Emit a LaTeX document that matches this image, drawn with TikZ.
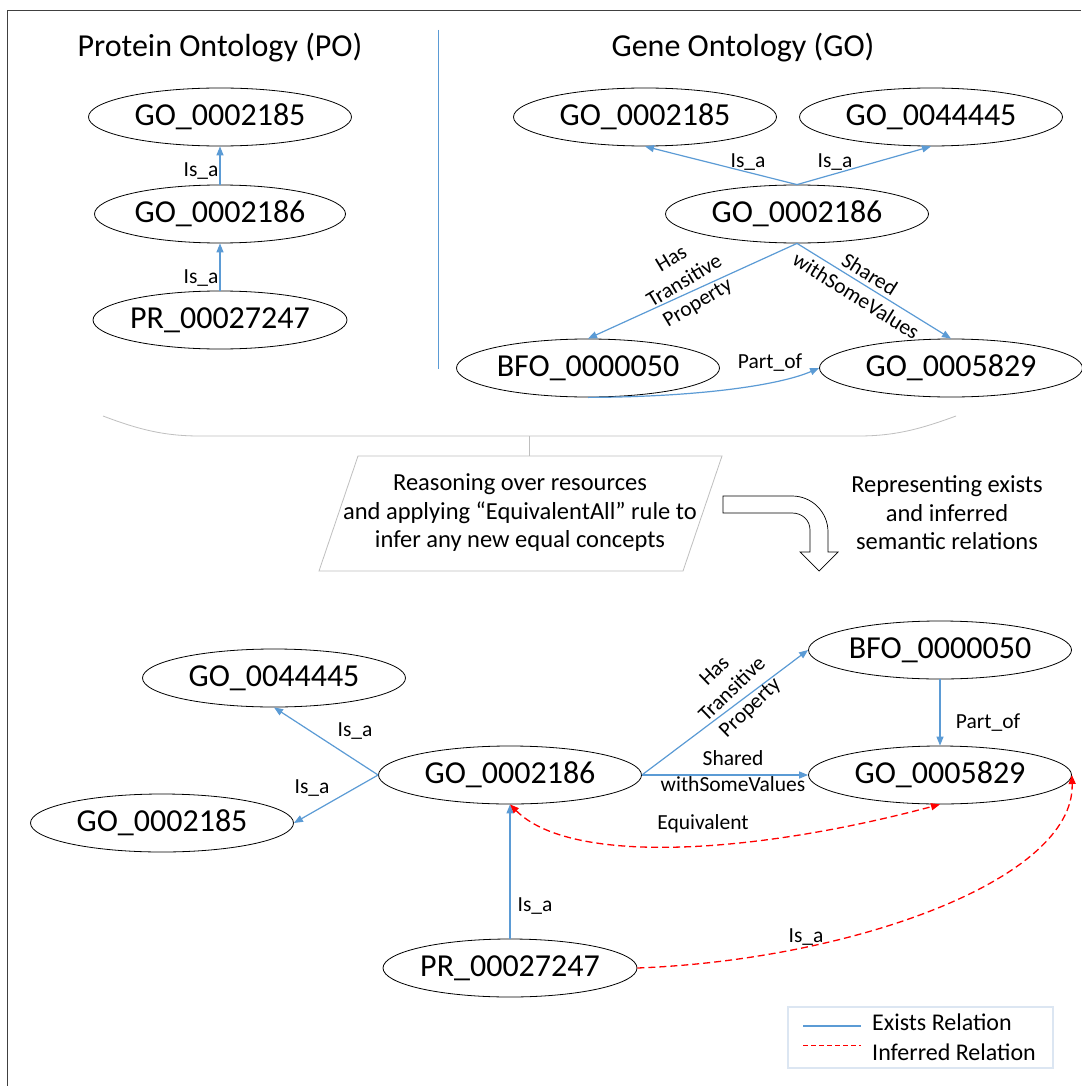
\documentclass[tikz,border=0pt]{standalone}
\usepackage{fontspec}
\setmainfont{Carlito}
\usetikzlibrary{shapes.geometric,arrows.meta}
\definecolor{relblue}{HTML}{5B9BD5}
\definecolor{framegray}{HTML}{404040}
\definecolor{softgray}{HTML}{BFBFBF}
\definecolor{legendedge}{HTML}{DCE6F2}

\begin{document}
\begin{tikzpicture}[x=1pt,y=-1pt,
  >={Triangle[length=9pt,width=7pt]},
  concept/.style={draw=black, line width=0.8pt, ellipse, minimum width=263pt,
    minimum height=58pt, inner sep=0pt, font=\fontsize{32}{36}\selectfont},
  narrow/.style={minimum width=251pt},
  heading/.style={font=\fontsize{32}{36}\selectfont, anchor=base, inner sep=0pt},
  lbl/.style={font=\fontsize{21.5}{25.5}\selectfont, inner sep=0pt, align=center},
  exists/.style={draw=relblue, line width=1.2pt, ->},
  inferred/.style={draw=red, line width=1.3pt, dash pattern=on 7pt off 4pt},
  note/.style={font=\fontsize{24.5}{28.5}\selectfont, align=center, inner sep=0pt},
  legendtext/.style={font=\fontsize{24}{28}\selectfont, anchor=west, inner sep=0pt},
]
% canvas and outer frame
\useasboundingbox (0,0) rectangle (1081,1086);
\fill[white] (0,0) rectangle (1081,1086);
\draw[framegray, line width=1pt] (7,1086) -- (7,11) -- (1081,11);

% ---------- upper part: the two source ontologies ----------
\node[heading] (potitle) at (220,57) {Protein Ontology (PO)};
\node[heading] (gotitle) at (743,57) {Gene Ontology (GO)};
\coordinate (divtop) at (438,30);
\coordinate (divbot) at (438,369);
\draw[relblue, line width=1pt] (divtop) -- (divbot);

% Protein Ontology
\node[concept] (pA) at (220,117) {GO\_0002185};
\node[concept, narrow] (pB) at (220,214) {GO\_0002186};
\node[concept, narrow] (pC) at (220,320) {PR\_00027247};
\draw[exists] (pB.north) -- (pA.south);
\draw[exists] (pC.north) -- (pB.south);
\node[lbl] (pisa1) at (201,171) {Is\_a};
\node[lbl] (pisa2) at (201,278) {Is\_a};

% Gene Ontology
\node[concept] (gA) at (645,117) {GO\_0002185};
\node[concept] (gB) at (931,117) {GO\_0044445};
\node[concept] (gC) at (797,214) {GO\_0002186};
\node[concept] (gD) at (588,368) {BFO\_0000050};
\node[concept] (gE) at (951,368) {GO\_0005829};
\draw[exists] (gC.north) -- (gA.south);
\draw[exists] (gC.north) -- (gB.south);
\draw[exists] (gC.south) -- (gD.north);
\draw[exists] (gC.south) -- (gE.north);
\draw[exists] (gD.south) .. controls (700,397) and (780,385) .. (gE.west);
\node[lbl] (gisa1) at (748,162) {Is\_a};
\node[lbl] (gisa2) at (835,162) {Is\_a};
\node[lbl, rotate=31] (ghas) at (685,282) {Has\\Transitive\\Property};
\node[lbl, rotate=-32] (gshared) at (863,285) {Shared\\withSomeValues};
\node[lbl] (gpart) at (770,363) {Part\_of};

% ---------- reasoning step ----------
\coordinate (bracetip) at (529,436);
\coordinate (paratop) at (529,456);
\draw[softgray, line width=0.8pt] (103,416) .. controls (140,430) and (165,436) .. (200,436)
  -- (858,436) .. controls (893,436) and (918,430) .. (956,416);
\draw[softgray, line width=0.8pt] (bracetip) -- (paratop);
\draw[softgray, line width=0.8pt] (358,456) -- (722,456) -- (683,571) -- (319,571) -- cycle;
\node[note] (reason) at (520,513)
  {Reasoning over resources\\and applying “EquivalentAll” rule to\\infer any new equal concepts};

% bent block arrow
\draw[black, line width=0.7pt, fill=white]
  (723,496) -- (792,496) .. controls (812,496) and (828,512) .. (828,532)
  -- (828,552) -- (838,552) -- (819,571) -- (800,552) -- (810,552)
  -- (810,530) .. controls (810,520) and (802,513) .. (792,513)
  -- (723,513) -- cycle;
\node[note] (represent) at (947,513) {Representing exists\\and inferred\\semantic relations};

% ---------- lower part: merged result ----------
\node[concept] (bA) at (274,678) {GO\_0044445};
\node[concept] (bB) at (162,823) {GO\_0002185};
\node[concept] (bC) at (510,775) {GO\_0002186};
\node[concept] (bD) at (940,650) {BFO\_0000050};
\node[concept] (bE) at (940,775) {GO\_0005829};
\node[concept, narrow] (bF) at (510,968) {PR\_00027247};

\draw[exists] (bC.west) -- (bA.south);
\draw[exists] (bC.west) -- (bB.east);
\draw[exists] (bC.east) -- (bD.west);
\draw[exists] (bC.east) -- (bE.west);
\draw[exists] (bD.south) -- (bE.north);
\draw[exists] (bF.north) -- (bC.south);
\draw[inferred, <->] (bC.south) .. controls (570,865) and (750,855) .. (bE.south);
\draw[inferred, ->] (bF.east) .. controls (850,960) and (1075,880) .. (bE.east);

\node[lbl] (bisa1) at (355,731) {Is\_a};
\node[lbl] (bisa2) at (312,788) {Is\_a};
\node[lbl, rotate=44] (bhas) at (733,690) {Has\\Transitive\\Property};
\node[lbl] (bshared) at (733,771) {Shared\\withSomeValues};
\node[lbl] (bpart) at (988,723) {Part\_of};
\node[lbl] (bequiv) at (703,824) {Equivalent};
\node[lbl] (bisa3) at (535,906) {Is\_a};
\node[lbl] (bisa4) at (806,937) {Is\_a};

% ---------- legend ----------
\node[draw=legendedge, line width=2pt, minimum width=265pt, minimum height=61pt, inner sep=0pt]
  (legend) at (920.5,1037.5) {};
\coordinate (lgA1) at (803,1026);
\coordinate (lgA2) at (861,1026);
\coordinate (lgB1) at (803,1045);
\coordinate (lgB2) at (861,1045);
\draw[relblue, line width=1.2pt] (lgA1) -- (lgA2);
\draw[red, line width=1pt, dash pattern=on 5pt off 3pt] (lgB1) -- (lgB2);
\node[legendtext] (lgAt) at (872,1022) {Exists Relation};
\node[legendtext] (lgBt) at (872,1052) {Inferred Relation};
\end{tikzpicture}
\end{document}
